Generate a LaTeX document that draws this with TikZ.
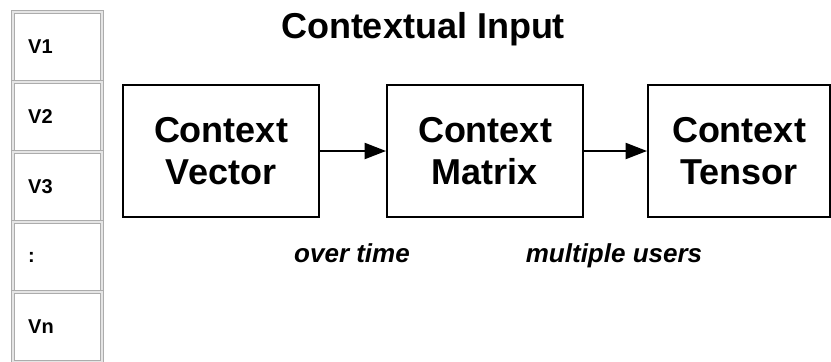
\documentclass[tikz,border=0pt]{standalone}
\usepackage{fontspec}
\setmainfont{Liberation Sans}
\usetikzlibrary{arrows.meta}

\tikzset{
  cell/.style={draw=gray!65, line width=0.9pt, double=gray!20, double distance=0.8pt,
    minimum width=66.75pt, minimum height=52.5pt, text width=44pt, inner xsep=11pt,
    align=left, font=\fontsize{15}{18}\selectfont\bfseries},
  ctxbox/.style={draw, line width=1.5pt, minimum width=147pt, minimum height=99pt,
    align=center, font=\fontsize{27}{31.5}\selectfont\bfseries},
  note/.style={anchor=base, font=\fontsize{19.5}{22}\selectfont\bfseries\itshape},
  flow/.style={line width=1.5pt, -{Triangle[length=16pt,width=12pt]}}
}

\begin{document}
\begin{tikzpicture}[x=0.75pt, y=-0.75pt]

\clip (0,0) rectangle (831,361);

% vector column on the left
\node[cell] (v1) at (57.5,47) {V1};
\node[cell] (v2) at (57.5,117) {V2};
\node[cell] (v3) at (57.5,187) {V3};
\node[cell] (vdots) at (57.5,257) {:};
\node[cell] (vn) at (57.5,327) {Vn};

% title
\node[anchor=base, font=\fontsize{27}{31.5}\selectfont\bfseries] (title) at (423,38) {Contextual Input};

% the three context boxes
\node[ctxbox] (vec) at (221,151) {Context\\Vector};
\node[ctxbox] (mat) at (485,151) {Context\\Matrix};
\node[ctxbox, minimum width=136.5pt] (ten) at (739,151) {Context\\Tensor};

\draw[flow] (vec) -- (mat);
\draw[flow] (mat) -- (ten);

% labels under the arrows
\node[note] (time) at (352,262) {over time};
\node[note] (users) at (614,262) {multiple users};

\end{tikzpicture}
\end{document}
